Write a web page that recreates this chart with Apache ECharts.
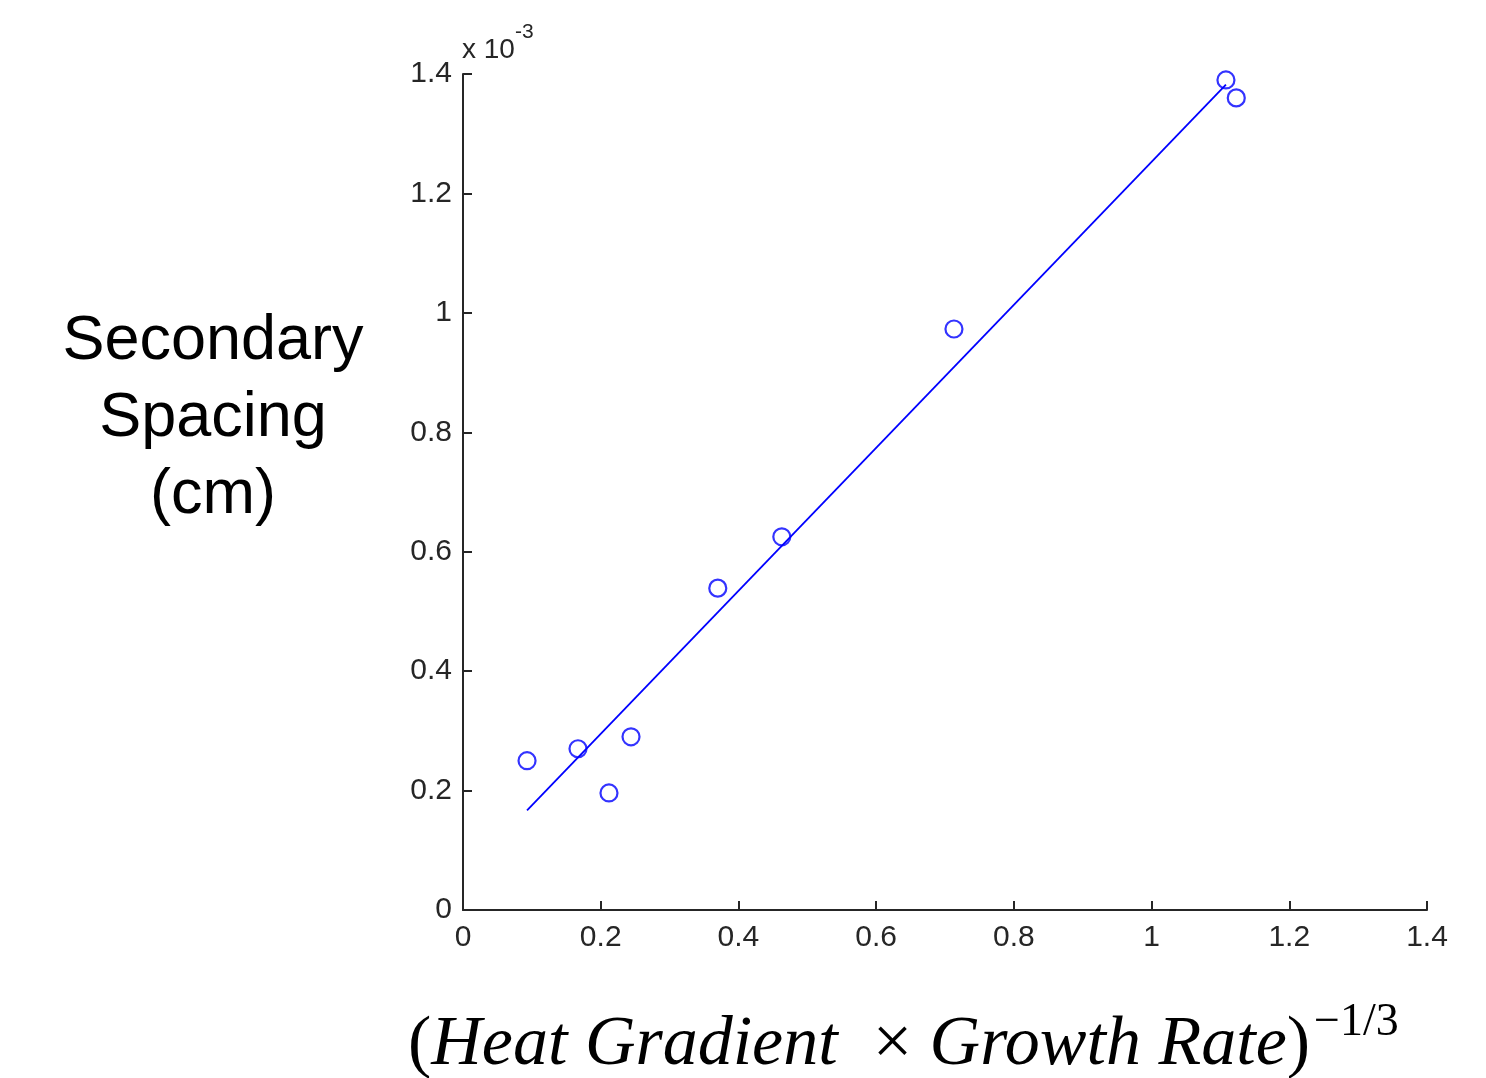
<!DOCTYPE html>
<html><head><meta charset="utf-8">
<script src="https://cdn.jsdelivr.net/npm/echarts@6/dist/echarts.min.js"></script>
<style>html,body{margin:0;padding:0;background:#fff}#c{width:1486px;height:1078px}</style>
</head><body><div id="c"></div>
<script>
// data (y in units of 1e-3 cm)
const xValues = [0.093, 0.167, 0.212, 0.244, 0.370, 0.463, 0.713, 1.108, 1.123];
const yValues = [0.250, 0.270, 0.196, 0.290, 0.539, 0.625, 0.973, 1.390, 1.360];
const fitX = [0.093, 1.108];
const fitY = [0.167, 1.382];
const xTicks = [0, 0.2, 0.4, 0.6, 0.8, 1, 1.2, 1.4];
const yTicks = [0, 0.2, 0.4, 0.6, 0.8, 1, 1.2, 1.4];

const chart = echarts.init(document.getElementById('c'), null, {renderer: 'canvas'});
const tickFont = {fontFamily: 'Liberation Sans', fontSize: 30, color: '#262626'};
const fmt = v => String(Math.round(v*10)/10);
chart.setOption({
  animation: false,
  grid: {left: 463, top: 74, right: 59, bottom: 168},
  xAxis: {
    type: 'value', min: 0, max: 1.4, interval: 0.2,
    axisLine: {lineStyle: {color: '#262626', width: 2}},
    axisTick: {inside: true, length: 9, lineStyle: {color: '#262626', width: 2}},
    splitLine: {show: false},
    axisLabel: Object.assign({margin: 13, formatter: fmt}, tickFont)
  },
  yAxis: {
    type: 'value', min: 0, max: 1.4, interval: 0.2,
    axisLine: {show: true, lineStyle: {color: '#262626', width: 2}},
    axisTick: {show: true, inside: true, length: 9, lineStyle: {color: '#262626', width: 2}},
    splitLine: {show: false},
    axisLabel: Object.assign({margin: 11, formatter: fmt}, tickFont)
  },
  graphic: [
    {type: 'text', left: 462, top: 22, style: {
      text: '{a|x 10}{b|-3}',
      rich: {
        a: {fontFamily: 'Liberation Sans', fontSize: 28, fill: '#262626', padding: [14,0,0,0]},
        b: {fontFamily: 'Liberation Sans', fontSize: 21, fill: '#262626', verticalAlign: 'top'}
      }
    }},
    {type: 'text', x: 213, y: 419, style: {
      text: 'Secondary\nSpacing\n(cm)', fontFamily: 'Liberation Sans', fontSize: 63,
      lineHeight: 77, fill: '#000', align: 'center', verticalAlign: 'middle'
    }},
    {type: 'text', x: 408, y: 1046, style: {
      text: '{p|(}{i|Heat Gradient  }{p|×}{i| Growth Rate}{p|)}{s|−1/3}',
      verticalAlign: 'middle',
      rich: {
        i: {fontFamily: 'Liberation Serif', fontStyle: 'italic', fontSize: 70, fill: '#000'},
        p: {fontFamily: 'Liberation Serif', fontSize: 70, fill: '#000'},
        s: {fontFamily: 'Liberation Serif', fontSize: 46, fill: '#000', padding: [0,0,46,4]}
      }
    }}
  ],
  series: [
    {type: 'line', data: fitX.map((x,i)=>[x, fitY[i]]), symbol: 'none',
     lineStyle: {color: '#0000ff', width: 1.8}, z: 2},
    {type: 'scatter', data: xValues.map((x,i)=>[x, yValues[i]]), symbol: 'circle', symbolSize: 17,
     itemStyle: {color: 'rgba(0,0,0,0)', borderColor: '#0000ff', borderWidth: 2.2}, z: 3}
  ]
});
</script></body></html>
